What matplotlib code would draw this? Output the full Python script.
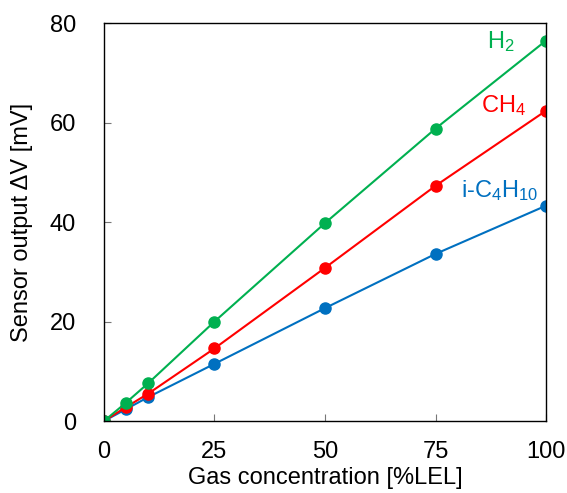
import matplotlib
matplotlib.use('Agg')
import matplotlib.pyplot as plt

plt.rcParams['font.family'] = ['Liberation Sans', 'DejaVu Sans']
plt.rcParams['mathtext.fontset'] = 'custom'
plt.rcParams['mathtext.rm'] = 'Liberation Sans'
plt.rcParams['mathtext.it'] = 'Liberation Sans:italic'

conc = [0, 5, 10, 25, 50, 75, 100]
h2 = [0, 3.7, 7.6, 20.0, 39.8, 58.8, 76.5]
ch4 = [0, 2.8, 5.5, 14.6, 30.8, 47.3, 62.4]
ic4h10 = [0, 2.4, 4.8, 11.5, 22.7, 33.6, 43.3]

c_h2 = '#00b050'
c_ch4 = '#ff0000'
c_ic4 = '#0070c0'
fs = 17

fig = plt.figure(figsize=(5.67, 4.93), dpi=100)
ax = fig.add_axes([0.1834, 0.146, 0.7796, 0.807])

ax.plot(conc, ic4h10, '-o', color=c_ic4, lw=1.5, ms=8)
ax.plot(conc, ch4, '-o', color=c_ch4, lw=1.5, ms=8)
ax.plot(conc, h2, '-o', color=c_h2, lw=1.5, ms=8)

ax.text(89.8, 76.4, r'H$_2$', color=c_h2, fontsize=fs, ha='center', va='center')
ax.text(90.3, 63.5, r'CH$_4$', color=c_ch4, fontsize=fs, ha='center', va='center')
ax.text(89.6, 46.4, r'i-C$_4$H$_{10}$', color=c_ic4, fontsize=fs, ha='center', va='center')

ax.set_xlim(0, 100)
ax.set_ylim(0, 80)
ax.set_xticks([0, 25, 50, 75, 100])
ax.set_yticks([0, 20, 40, 60, 80])
ax.tick_params(direction='in', labelsize=fs, length=5, color='#777777')
ax.tick_params(axis='x', pad=14.5)
ax.tick_params(axis='y', pad=20)
ax.set_xlabel('Gas concentration [%LEL]', fontsize=fs, labelpad=3)
ax.set_ylabel('Sensor output \u0394V [mV]', fontsize=fs, labelpad=12)
for s in ax.spines.values():
    s.set_linewidth(1.0)
    s.set_clip_on(False)

fig.savefig('out.png', dpi=100)
